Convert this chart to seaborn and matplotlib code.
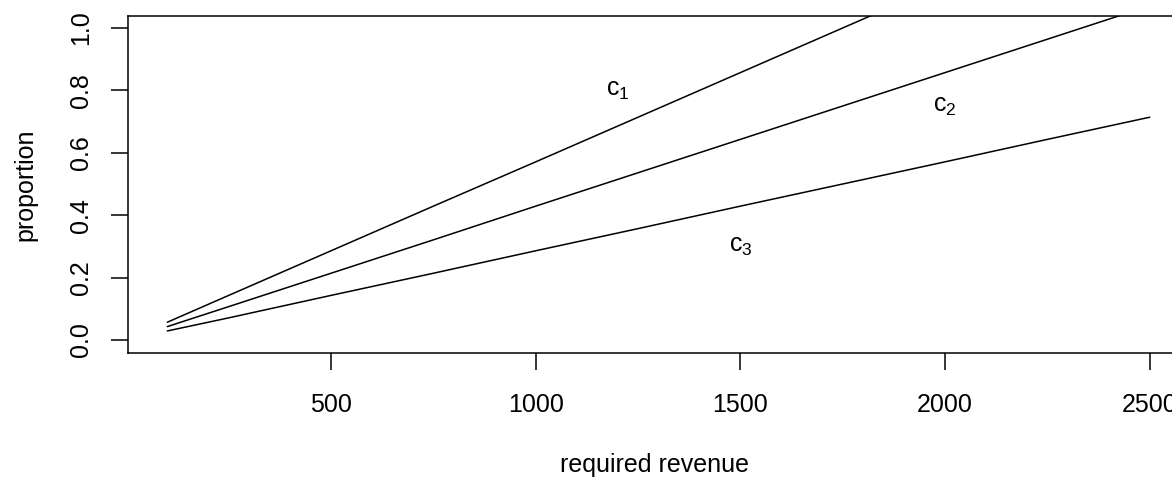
import pandas as pd
import seaborn as sns
import matplotlib.pyplot as plt

# valores
revenue = [100, 250, 500, 750, 1000, 1250, 1500, 1750, 2000, 2250, 2500]
c1 = [0.057, 0.143, 0.286, 0.429, 0.571, 0.714, 0.857, 1.000, 1.143, 1.286, 1.429]
c2 = [0.043, 0.107, 0.214, 0.321, 0.429, 0.536, 0.643, 0.750, 0.857, 0.964, 1.071]
c3 = [0.029, 0.071, 0.143, 0.214, 0.286, 0.357, 0.429, 0.500, 0.571, 0.643, 0.714]

labels = ["$c_1$", "$c_2$", "$c_3$"]
label_x = [1200, 2000, 1500]
label_y = [0.80, 0.75, 0.30]

df = pd.DataFrame({
    "revenue": revenue * 3,
    "proportion": c1 + c2 + c3,
    "curve": ["c1"] * len(revenue) + ["c2"] * len(revenue) + ["c3"] * len(revenue),
})

sns.set_style("white", {"text.color": "black", "axes.labelcolor": "black",
                        "xtick.color": "black", "ytick.color": "black"})
plt.rcParams["font.family"] = ["Liberation Sans", "DejaVu Sans"]
plt.rcParams["mathtext.fontset"] = "custom"
plt.rcParams["mathtext.rm"] = "Liberation Sans"
plt.rcParams["mathtext.it"] = "Liberation Sans"

fig = plt.figure(figsize=(11.72, 4.78), dpi=100)
ax = fig.add_axes([128 / 1172, 1 - 352.5 / 478, (1189 - 128) / 1172, (352.5 - 15.5) / 478])

sns.lineplot(data=df, x="revenue", y="proportion", units="curve", estimator=None,
             color="black", linewidth=1.1, ax=ax, legend=False)

for lab, xx, yy in zip(labels, label_x, label_y):
    ax.text(xx, yy, lab, fontsize=18, ha="center", va="center", color="black")

ax.set_xlim(4, 2596)
ax.set_ylim(-0.04, 1.04)
ax.set_xticks([500, 1000, 1500, 2000, 2500])
ax.set_yticks([0.0, 0.2, 0.4, 0.6, 0.8, 1.0])
ax.set_yticklabels(["0.0", "0.2", "0.4", "0.6", "0.8", "1.0"], rotation=90, va="center")
ax.tick_params(direction="out", length=12, width=1.1, labelsize=18, color="black",
               labelcolor="black", left=True, bottom=True)
ax.tick_params(axis="x", pad=17)
ax.tick_params(axis="y", pad=13)
for s in ax.spines.values():
    s.set_color("black")
    s.set_linewidth(1.1)

ax.set_xlabel("required revenue", fontsize=18, va="center", color="black")
ax.set_ylabel("proportion", fontsize=18, va="center", color="black")
ax.xaxis.set_label_coords((655 - 128) / 1061, -(465 - 352.5) / 337)
ax.yaxis.set_label_coords(-(128 - 25) / 1061, (352.5 - 185) / 337)

plt.savefig("out.png", dpi=100)
